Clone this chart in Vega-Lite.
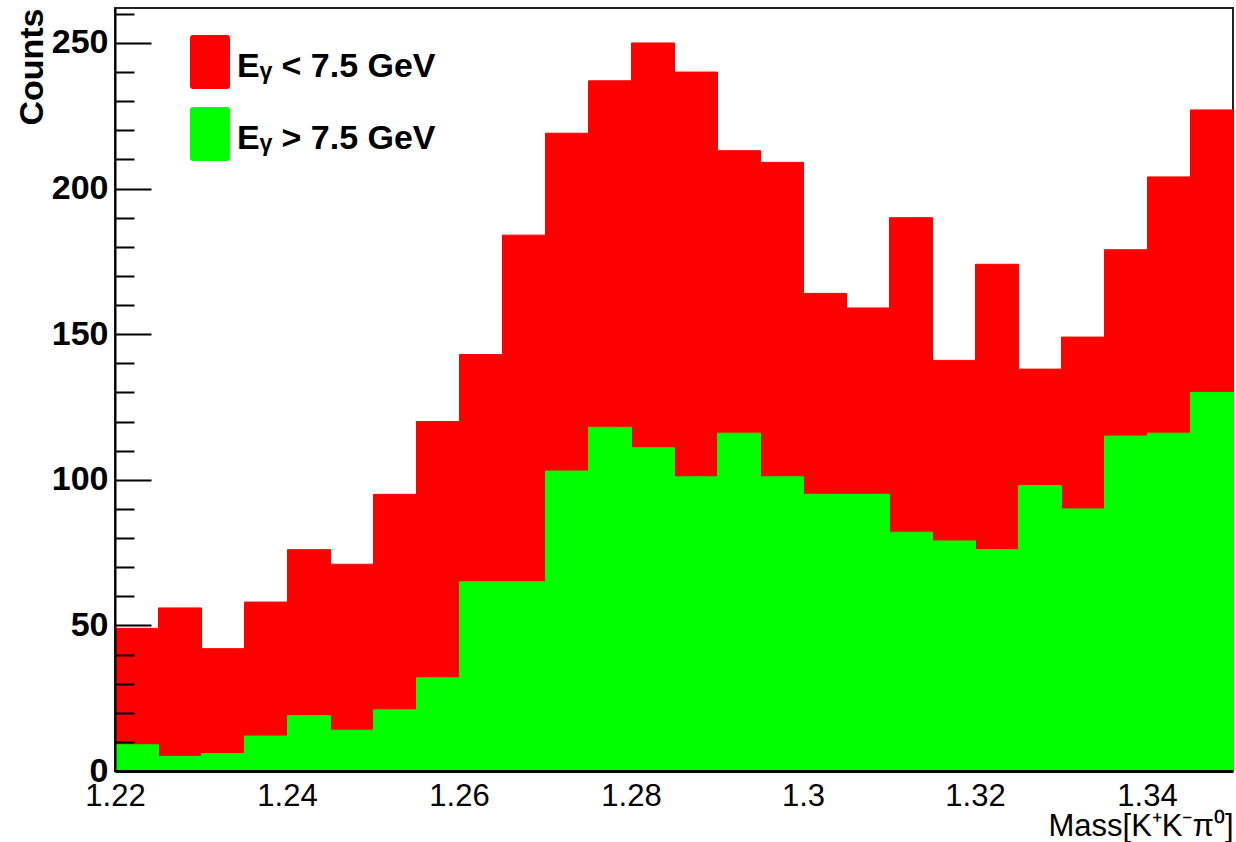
{
  "$schema": "https://vega.github.io/schema/vega-lite/v6.json",
  "width": 1118,
  "height": 763,
  "autosize": {"type": "none"},
  "padding": {"left": 115, "top": 8, "right": 3, "bottom": 71},
  "background": "white",
  "config": {
    "view": {"stroke": "#222222", "strokeWidth": 2},
    "font": "Liberation Sans"
  },
  "data": {
    "values": [
      {"lo": 1.220, "hi": 1.225, "series": "low", "count": 49},
      {"lo": 1.225, "hi": 1.230, "series": "low", "count": 56},
      {"lo": 1.230, "hi": 1.235, "series": "low", "count": 42},
      {"lo": 1.235, "hi": 1.240, "series": "low", "count": 58},
      {"lo": 1.240, "hi": 1.245, "series": "low", "count": 76},
      {"lo": 1.245, "hi": 1.250, "series": "low", "count": 71},
      {"lo": 1.250, "hi": 1.255, "series": "low", "count": 95},
      {"lo": 1.255, "hi": 1.260, "series": "low", "count": 120},
      {"lo": 1.260, "hi": 1.265, "series": "low", "count": 143},
      {"lo": 1.265, "hi": 1.270, "series": "low", "count": 184},
      {"lo": 1.270, "hi": 1.275, "series": "low", "count": 219},
      {"lo": 1.275, "hi": 1.280, "series": "low", "count": 237},
      {"lo": 1.280, "hi": 1.285, "series": "low", "count": 250},
      {"lo": 1.285, "hi": 1.290, "series": "low", "count": 240},
      {"lo": 1.290, "hi": 1.295, "series": "low", "count": 213},
      {"lo": 1.295, "hi": 1.300, "series": "low", "count": 209},
      {"lo": 1.300, "hi": 1.305, "series": "low", "count": 164},
      {"lo": 1.305, "hi": 1.310, "series": "low", "count": 159},
      {"lo": 1.310, "hi": 1.315, "series": "low", "count": 190},
      {"lo": 1.315, "hi": 1.320, "series": "low", "count": 141},
      {"lo": 1.320, "hi": 1.325, "series": "low", "count": 174},
      {"lo": 1.325, "hi": 1.330, "series": "low", "count": 138},
      {"lo": 1.330, "hi": 1.335, "series": "low", "count": 149},
      {"lo": 1.335, "hi": 1.340, "series": "low", "count": 179},
      {"lo": 1.340, "hi": 1.345, "series": "low", "count": 204},
      {"lo": 1.345, "hi": 1.350, "series": "low", "count": 227},
      {"lo": 1.220, "hi": 1.225, "series": "high", "count": 9},
      {"lo": 1.225, "hi": 1.230, "series": "high", "count": 5},
      {"lo": 1.230, "hi": 1.235, "series": "high", "count": 6},
      {"lo": 1.235, "hi": 1.240, "series": "high", "count": 12},
      {"lo": 1.240, "hi": 1.245, "series": "high", "count": 19},
      {"lo": 1.245, "hi": 1.250, "series": "high", "count": 14},
      {"lo": 1.250, "hi": 1.255, "series": "high", "count": 21},
      {"lo": 1.255, "hi": 1.260, "series": "high", "count": 32},
      {"lo": 1.260, "hi": 1.265, "series": "high", "count": 65},
      {"lo": 1.265, "hi": 1.270, "series": "high", "count": 65},
      {"lo": 1.270, "hi": 1.275, "series": "high", "count": 103},
      {"lo": 1.275, "hi": 1.280, "series": "high", "count": 118},
      {"lo": 1.280, "hi": 1.285, "series": "high", "count": 111},
      {"lo": 1.285, "hi": 1.290, "series": "high", "count": 101},
      {"lo": 1.290, "hi": 1.295, "series": "high", "count": 116},
      {"lo": 1.295, "hi": 1.300, "series": "high", "count": 101},
      {"lo": 1.300, "hi": 1.305, "series": "high", "count": 95},
      {"lo": 1.305, "hi": 1.310, "series": "high", "count": 95},
      {"lo": 1.310, "hi": 1.315, "series": "high", "count": 82},
      {"lo": 1.315, "hi": 1.320, "series": "high", "count": 79},
      {"lo": 1.320, "hi": 1.325, "series": "high", "count": 76},
      {"lo": 1.325, "hi": 1.330, "series": "high", "count": 98},
      {"lo": 1.330, "hi": 1.335, "series": "high", "count": 90},
      {"lo": 1.335, "hi": 1.340, "series": "high", "count": 115},
      {"lo": 1.340, "hi": 1.345, "series": "high", "count": 116},
      {"lo": 1.345, "hi": 1.350, "series": "high", "count": 130}
    ]
  },
  "encoding": {
    "x": {
      "field": "lo",
      "type": "quantitative",
      "bin": {"binned": true, "step": 0.005},
      "scale": {"domain": [1.22, 1.35], "nice": false, "zero": false},
      "axis": {
        "values": [1.22, 1.24, 1.26, 1.28, 1.3, 1.32, 1.34],
        "format": ".3~g",
        "ticks": false,
        "grid": false,
        "zindex": 1,
        "domainColor": "black",
        "domainWidth": 3,
        "labelFlush": false,
        "labelPadding": 10,
        "labelFont": "Liberation Sans",
        "labelFontSize": 31,
        "labelColor": "black",
        "title": "Mass[K⁺K⁻π⁰]",
        "titleFont": "Liberation Sans",
        "titleFontSize": 31,
        "titleFontWeight": "normal",
        "titleColor": "black",
        "titleAlign": "right",
        "titleBaseline": "alphabetic",
        "titleX": 1118,
        "titleY": 64
      }
    },
    "x2": {"field": "hi"},
    "y": {
      "field": "count",
      "type": "quantitative",
      "stack": null,
      "scale": {"domain": [0, 262], "nice": false},
      "axis": {
        "values": [0, 10, 20, 30, 40, 50, 60, 70, 80, 90, 100, 110, 120, 130, 140, 150, 160, 170, 180, 190, 200, 210, 220, 230, 240, 250, 260],
        "labelExpr": "datum.value % 50 === 0 ? datum.label : ''",
        "labelOverlap": false,
        "grid": false,
        "zindex": 1,
        "domainColor": "black",
        "domainWidth": 2,
        "ticks": true,
        "tickColor": "black",
        "tickWidth": 2,
        "tickSize": {"condition": {"test": "datum.value % 50 === 0", "value": -36}, "value": -19},
        "labelPadding": 43,
        "labelFont": "Liberation Sans",
        "labelFontSize": 34,
        "labelFontWeight": "bold",
        "labelColor": "black",
        "title": "Counts",
        "titleFont": "Liberation Sans",
        "titleFontSize": 34,
        "titleFontWeight": "bold",
        "titleColor": "black",
        "titleAngle": 270,
        "titleAlign": "right",
        "titleBaseline": "alphabetic",
        "titleX": -73,
        "titleY": 0
      }
    },
    "stroke": {
      "field": "series",
      "type": "nominal",
      "scale": {"domain": ["low", "high"], "range": ["#ff0000", "#00ff00"]},
      "legend": null
    },
    "color": {
      "field": "series",
      "type": "nominal",
      "scale": {"domain": ["low", "high"], "range": ["#ff0000", "#00ff00"]},
      "legend": {
        "orient": "none",
        "legendX": 68,
        "legendY": 27,
        "title": null,
        "padding": 0,
        "labelExpr": "datum.value === 'low' ? 'Eᵧ < 7.5 GeV' : 'Eᵧ > 7.5 GeV'",
        "symbolType": "M-0.708,-1L0.708,-1L0.708,1L-0.708,1Z",
        "symbolSize": 2304,
        "symbolOpacity": 1,
        "symbolStrokeWidth": 6,
        "labelFont": "Liberation Sans",
        "labelFontSize": 34,
        "labelFontWeight": "bold",
        "labelColor": "black",
        "labelOffset": 0,
        "labelLimit": 0,
        "rowPadding": 18,
        "encode": {
          "symbols": {
            "update": {
              "stroke": {"scale": "color", "field": "value"},
              "strokeJoin": {"value": "round"}
            }
          },
          "labels": {
            "update": {"dy": {"value": 5}}
          }
        }
      }
    }
  },
  "layer": [
    {
      "transform": [{"filter": "datum.series === 'low'"}],
      "mark": {"type": "bar", "opacity": 1, "binSpacing": 0, "strokeWidth": 1}
    },
    {
      "transform": [{"filter": "datum.series === 'high'"}],
      "mark": {"type": "bar", "opacity": 1, "binSpacing": 0, "strokeWidth": 1}
    }
  ]
}
